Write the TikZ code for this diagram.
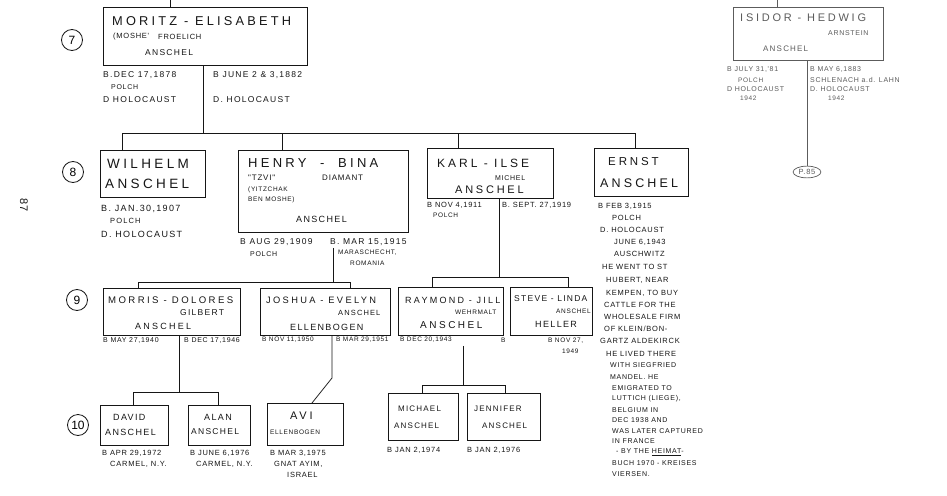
\documentclass[tikz,border=0pt]{standalone}
\usepackage{fontspec}
\setmainfont{Liberation Sans}
\newfontfamily\handA[LetterSpace=25]{Liberation Sans}
\newfontfamily\handB[LetterSpace=15]{Liberation Sans}
\newfontfamily\handC[LetterSpace=10]{Liberation Sans}
\usetikzlibrary{shapes.geometric}
\definecolor{ink}{HTML}{161616}
\definecolor{faint}{HTML}{5C5C5C}
\tikzset{
  pbox/.style={draw=ink, line width=0.85pt, inner sep=0pt, anchor=north west},
  ln/.style={draw=ink, line width=0.75pt},
  nm/.style={inner sep=0pt, anchor=west, text=ink, font=\handA\fontsize{#1}{#1}\selectfont},
  nm/.default=12,
  dt/.style={inner sep=0pt, anchor=west, text=ink, font=\handB\fontsize{#1}{#1}\selectfont},
  dt/.default=8,
  tn/.style={inner sep=0pt, anchor=west, text=ink, font=\handC\fontsize{#1}{#1}\selectfont},
  tn/.default=7,
  circ/.style={draw=ink, circle, line width=0.8pt, minimum size=21pt, inner sep=0pt, font=\fontsize{12}{12}\selectfont},
}
\begin{document}
\begin{tikzpicture}[x=1pt,y=-1pt]
\path[use as bounding box] (0,0) rectangle (947,495);
\fill[white] (0,0) rectangle (947,495);

% ---------- generation 7 ----------
\node[circ] (g7) at (72,40) {7};
\node[pbox, minimum width=204pt, minimum height=58pt] (moritz) at (103,7) {};
\coordinate (top7) at (170,0);
\draw[ln] (top7) -- (top7 |- moritz.north);
\node[nm=12.8] (mA) at (112,21) {MORITZ - ELISABETH};
\node[tn=7.5] (mB) at (113,37) {(MOSHE'};
\node[tn=7.5] (mC) at (158,37) {FROELICH};
\node[dt=8.5] (mD) at (145,53) {ANSCHEL};
\node[dt=8.5] (mE) at (103,75) {B.DEC 17,1878};
\node[tn=7] (mF) at (111,87) {POLCH};
\node[dt=8.5] (mG) at (103,100) {D HOLOCAUST};
\node[dt=8.5] (mH) at (213,75) {B JUNE 2 \& 3,1882};
\node[dt=8.5] (mI) at (213,100) {D. HOLOCAUST};
\coordinate (s7) at (203,133);
\draw[ln] (moritz.south -| s7) -- (s7);
\coordinate (b7L) at (122,133);
\coordinate (b7H) at (282,133);
\coordinate (b7K) at (458,133);
\coordinate (b7R) at (635,133);
\draw[ln] (b7L) -- (b7R);

% Isidor
\node[pbox, draw=faint, minimum width=150pt, minimum height=53pt] (isidor) at (733,7) {};
\coordinate (topI) at (777,0);
\draw[ln, draw=faint] (topI) -- (topI |- isidor.north);
\node[nm=11, text=faint] (iA) at (740,18) {ISIDOR - HEDWIG};
\node[tn=7, text=faint] (iB) at (828,33) {ARNSTEIN};
\node[dt=8, text=faint] (iC) at (763,49) {ANSCHEL};
\node[tn=7, text=faint] (iD) at (727,70) {B JULY 31,'81};
\node[tn=6.5, text=faint] (iE) at (738,80) {POLCH};
\node[tn=7, text=faint] (iF) at (727,89) {D HOLOCAUST};
\node[tn=6.5, text=faint] (iG) at (740,98) {1942};
\node[tn=7, text=faint] (iH) at (810,70) {B MAY 6,1883};
\node[tn=7, text=faint] (iI) at (810,80) {SCHLENACH a.d. LAHN};
\node[tn=7, text=faint] (iJ) at (810,89) {D. HOLOCAUST};
\node[tn=6.5, text=faint] (iK) at (828,98) {1942};
\node[draw=faint, ellipse, line width=0.7pt, inner sep=1.5pt, text=faint, font=\handC\fontsize{7.5}{7.5}\selectfont] (p85) at (807,172) {P.85};
\draw[ln, draw=faint] (isidor.south -| p85) -- (p85.north);

% ---------- generation 8 ----------
\node[circ] (g8) at (73,172) {8};
\node[rotate=-90, inner sep=0pt, text=ink, font=\fontsize{11}{11}\selectfont] (pg) at (24,205) {87};

\node[pbox, minimum width=105pt, minimum height=47pt] (wilhelm) at (100,150) {};
\draw[ln] (b7L) -- (b7L |- wilhelm.north);
\node[nm=13.5] (wA) at (107,164) {WILHELM};
\node[nm=13.5] (wB) at (105,184) {ANSCHEL};
\node[dt=9] (wC) at (101,209) {B. JAN.30,1907};
\node[dt=7.5] (wD) at (110,221) {POLCH};
\node[dt=9] (wE) at (101,234) {D. HOLOCAUST};

\node[pbox, minimum width=170pt, minimum height=82pt] (henry) at (238,150) {};
\draw[ln] (b7H) -- (b7H |- henry.north);
\node[nm=13] (hA) at (248,163) {HENRY ~-~ BINA};
\node[tn=8] (hB) at (248,178) {"TZVI"};
\node[tn=8] (hC) at (322,178) {DIAMANT};
\node[tn=6.5] (hD) at (248,190) {(YITZCHAK};
\node[tn=6.5] (hE) at (248,200) {BEN MOSHE)};
\node[dt=9] (hF) at (296,219) {ANSCHEL};
\node[dt=8.5] (hG) at (240,242) {B AUG 29,1909};
\node[tn=7] (hH) at (250,254) {POLCH};
\node[dt=8.5] (hI) at (330,242) {B. MAR 15,1915};
\node[tn=6.5] (hJ) at (338,253) {MARASCHECHT,};
\node[tn=6.5] (hK) at (350,263) {ROMANIA};

\node[pbox, minimum width=126pt, minimum height=50pt] (karl) at (427,148) {};
\draw[ln] (b7K) -- (b7K |- karl.north);
\node[nm=12] (kA) at (437,163) {KARL - ILSE};
\node[tn=7] (kB) at (495,178) {MICHEL};
\node[nm=11] (kC) at (455,190) {ANSCHEL};
\node[tn=7.5] (kD) at (427,205) {B NOV 4,1911};
\node[tn=6.5] (kE) at (433,215) {POLCH};
\node[tn=7.5] (kF) at (502,205) {B. SEPT. 27,1919};

\node[pbox, minimum width=94pt, minimum height=48pt] (ernst) at (594,148) {};
\draw[ln] (b7R) -- (b7R |- ernst.north);
\node[nm=11.5] (eA) at (608,162) {ERNST};
\node[nm=12.5] (eB) at (600,183) {ANSCHEL};
\node[tn=7.5] (n1) at (598,206) {B FEB 3,1915};
\node[tn=7.5] (n2) at (612,218) {POLCH};
\node[tn=7.5] (n3) at (600,230) {D. HOLOCAUST};
\node[tn=7.5] (n4) at (614,242) {JUNE 6,1943};
\node[tn=7.5] (n5) at (614,254) {AUSCHWITZ};
\node[tn=7.5] (n6) at (602,267) {HE WENT TO ST};
\node[tn=7.5] (n7) at (606,280) {HUBERT, NEAR};
\node[tn=7.5] (n8) at (606,293) {KEMPEN, TO BUY};
\node[tn=7.5] (n9) at (604,305) {CATTLE FOR THE};
\node[tn=7.5] (n10) at (604,317) {WHOLESALE FIRM};
\node[tn=7.5] (n11) at (604,329) {OF KLEIN/BON-};
\node[tn=7.5] (n12) at (600,341) {GARTZ ALDEKIRCK};
\node[tn=7.5] (n13) at (606,354) {HE LIVED THERE};
\node[tn=7] (n14) at (610,365) {WITH SIEGFRIED};
\node[tn=7] (n15) at (610,377) {MANDEL. HE};
\node[tn=7] (n16) at (612,388) {EMIGRATED TO};
\node[tn=7] (n17) at (612,399) {LUTTICH (LIEGE),};
\node[tn=7] (n18) at (612,410) {BELGIUM IN};
\node[tn=7] (n19) at (612,420) {DEC 1938 AND};
\node[tn=7] (n20) at (612,431) {WAS LATER CAPTURED};
\node[tn=7] (n21) at (612,441) {IN FRANCE};
\node[tn=7] (n22) at (616,452) {- BY THE \underline{HEIMAT}-};
\node[tn=7] (n23) at (612,463) {BUCH 1970 - KREISES};
\node[tn=7] (n24) at (612,474) {VIERSEN.};

% ---------- generation 9 ----------
\node[circ] (g9) at (77,300) {9};
\coordinate (s8H) at (333,282);
\coordinate (b8L) at (138,282);
\coordinate (b8R) at (350,282);
\draw[ln] (s8H |- henry.south) ++(0,15) -- (s8H);
\draw[ln] (b8L) -- (b8R);

\node[pbox, minimum width=137pt, minimum height=47pt] (morris) at (103,288) {};
\draw[ln] (b8L) -- (b8L |- morris.north);
\node[nm=9.6] (oA) at (108,300) {MORRIS - DOLORES};
\node[dt=8.5] (oB) at (180,313) {GILBERT};
\node[nm=9] (oC) at (135,326) {ANSCHEL};
\node[tn=7] (oD) at (103,340) {B MAY 27,1940};
\node[tn=7] (oE) at (184,340) {B DEC 17,1946};

\node[pbox, minimum width=130pt, minimum height=47pt] (joshua) at (260,288) {};
\draw[ln] (b8R) -- (b8R |- joshua.north);
\node[nm=9.3] (jA) at (266,300) {JOSHUA - EVELYN};
\node[dt=7.5] (jB) at (338,313) {ANSCHEL};
\node[dt=9] (jC) at (290,327) {ELLENBOGEN};
\node[tn=6.5] (jD) at (262,340) {B NOV 11,1950};
\node[tn=6.5] (jE) at (336,340) {B MAR 29,1951};

\coordinate (s8K) at (499,277);
\coordinate (b9L) at (432,277);
\coordinate (b9R) at (568,277);
\draw[ln] (karl.south -| s8K) -- (s8K);
\draw[ln] (b9L) -- (b9R);

\node[pbox, minimum width=105pt, minimum height=48pt] (raymond) at (398,287) {};
\draw[ln] (b9L) -- (b9L |- raymond.north);
\node[nm=9] (rA) at (405,300) {RAYMOND - JILL};
\node[tn=6.5] (rB) at (455,312) {WEHRMALT};
\node[nm=10] (rC) at (420,325) {ANSCHEL};
\node[tn=6.5] (rD) at (400,340) {B DEC 20,1943};
\node[tn=6.5] (rE) at (501,340) {B};

\node[pbox, minimum width=82pt, minimum height=48pt] (steve) at (510,287) {};
\draw[ln] (b9R) -- (b9R |- steve.north);
\node[dt=8.5] (sA) at (514,299) {STEVE - LINDA};
\node[tn=6.5] (sB) at (556,311) {ANSCHEL};
\node[dt=9] (sC) at (535,324) {HELLER};
\node[tn=6.5] (sD) at (548,341) {B NOV 27,};
\node[tn=6.5] (sE) at (562,351) {1949};

% ---------- generation 10 ----------
\node[circ] (g10) at (78,425) {10};
\coordinate (s9M) at (179,392);
\coordinate (b10L) at (133,392);
\coordinate (b10R) at (218,392);
\draw[ln] (morris.south -| s9M) -- (s9M);
\draw[ln] (b10L) -- (b10R);

\node[pbox, minimum width=68pt, minimum height=40pt] (david) at (100,405) {};
\draw[ln] (b10L) -- (b10L |- david.north);
\node[dt=9] (dA) at (113,417) {DAVID};
\node[dt=9] (dB) at (105,432) {ANSCHEL};
\node[tn=7.5] (dC) at (102,453) {B APR 29,1972};
\node[tn=7.5] (dD) at (110,464) {CARMEL, N.Y.};

\node[pbox, minimum width=62pt, minimum height=40pt] (alan) at (188,405) {};
\draw[ln] (b10R) -- (b10R |- alan.north);
\node[dt=9] (aA) at (204,417) {ALAN};
\node[dt=8.5] (aB) at (191,432) {ANSCHEL};
\node[tn=7.5] (aC) at (190,453) {B JUNE 6,1976};
\node[tn=7.5] (aD) at (196,464) {CARMEL, N.Y.};

\node[pbox, minimum width=76pt, minimum height=42pt] (avi) at (267,403) {};
\coordinate (s9J) at (332,378);
\coordinate (aviTop) at (312,403);
\draw[ln] (joshua.south -| s9J) -- (s9J) -- (aviTop);
\node[nm=11] (vA) at (290,416) {AVI};
\node[tn=6.5] (vB) at (270,432) {ELLENBOGEN};
\node[tn=7.5] (vC) at (270,453) {B MAR 3,1975};
\node[tn=7.5] (vD) at (274,464) {GNAT AYIM,};
\node[tn=7.5] (vE) at (287,475) {ISRAEL};

\coordinate (s9R) at (463,385);
\coordinate (b11L) at (422,385);
\coordinate (b11R) at (505,385);
\draw[ln] (s9R |- raymond.south) ++(0,10) -- (s9R);
\draw[ln] (b11L) -- (b11R);

\node[pbox, minimum width=70pt, minimum height=47pt] (michael) at (388,393) {};
\draw[ln] (b11L) -- (b11L |- michael.north);
\node[dt=8] (cA) at (398,409) {MICHAEL};
\node[dt=8] (cB) at (394,426) {ANSCHEL};
\node[tn=7.5] (cC) at (387,450) {B JAN 2,1974};

\node[pbox, minimum width=73pt, minimum height=47pt] (jennifer) at (467,393) {};
\draw[ln] (b11R) -- (b11R |- jennifer.north);
\node[dt=8] (fA) at (474,409) {JENNIFER};
\node[dt=8] (fB) at (482,426) {ANSCHEL};
\node[tn=7.5] (fC) at (467,450) {B JAN 2,1976};
\end{tikzpicture}
\end{document}
